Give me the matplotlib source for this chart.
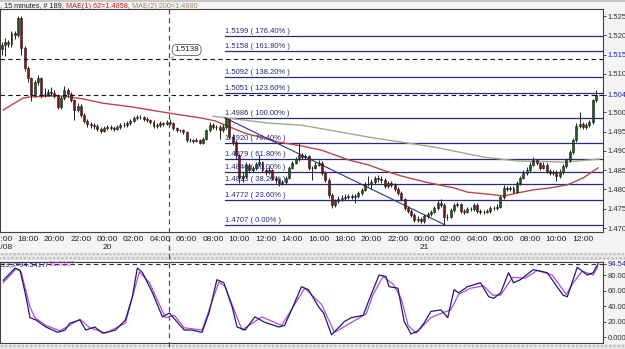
import numpy as np
import matplotlib
matplotlib.use("Agg")
import matplotlib.pyplot as plt
from matplotlib.lines import Line2D
from matplotlib.patches import Rectangle
from matplotlib.transforms import blended_transform_factory

plt.rcParams["font.family"] = ["Liberation Sans", "DejaVu Sans"]

# ---- price data: 15-minute bars, 16:00 19/08 -> 13:00 21/08 ----
close = [
    1.5175, 1.5183, 1.5177, 1.5206, 1.5201, 1.5245, 1.5167, 1.5115, 1.5089, 1.5045,
    1.5079, 1.5089, 1.5045, 1.5048, 1.5053, 1.5050, 1.5043, 1.5014, 1.5037, 1.5058,
    1.5048, 1.5032, 1.5006, 1.5017, 1.4993, 1.4978, 1.4970, 1.4967, 1.4965, 1.4957,
    1.4952, 1.4960, 1.4962, 1.4960, 1.4957, 1.4962, 1.4967, 1.4967, 1.4972, 1.4978,
    1.4985, 1.4988, 1.4988, 1.4983, 1.4980, 1.4975, 1.4965, 1.4967, 1.4972, 1.4970,
    1.4975, 1.4972, 1.4960, 1.4954, 1.4954, 1.4949, 1.4928, 1.4928, 1.4926, 1.4928,
    1.4921, 1.4931, 1.4954, 1.4967, 1.4962, 1.4962, 1.4954, 1.4962, 1.4983, 1.4936,
    1.4923, 1.4889, 1.4830, 1.4835, 1.4864, 1.4850, 1.4856, 1.4866, 1.4871, 1.4850,
    1.4845, 1.4850, 1.4830, 1.4825, 1.4817, 1.4819, 1.4830, 1.4856, 1.4869, 1.4879,
    1.4889, 1.4884, 1.4887, 1.4856, 1.4856, 1.4864, 1.4869, 1.4843, 1.4825, 1.4786,
    1.4760, 1.4770, 1.4775, 1.4778, 1.4781, 1.4783, 1.4781, 1.4783, 1.4791, 1.4799,
    1.4814, 1.4814, 1.4819, 1.4830, 1.4827, 1.4825, 1.4809, 1.4817, 1.4812, 1.4801,
    1.4791, 1.4775, 1.4752, 1.4744, 1.4734, 1.4721, 1.4723, 1.4718, 1.4731, 1.4736,
    1.4742, 1.4752, 1.4765, 1.4760, 1.4729, 1.4729, 1.4747, 1.4760, 1.4762, 1.4744,
    1.4742, 1.4749, 1.4749, 1.4760, 1.4744, 1.4742, 1.4742, 1.4744, 1.4752, 1.4752,
    1.4755, 1.4781, 1.4804, 1.4801, 1.4804, 1.4794, 1.4817, 1.4830, 1.4843, 1.4850,
    1.4864, 1.4876, 1.4869, 1.4856, 1.4864, 1.4848, 1.4843, 1.4845, 1.4835, 1.4845,
    1.4861, 1.4876, 1.4897, 1.4928, 1.4965, 1.4970, 1.4962, 1.4967, 1.4975, 1.5032,
    1.5046,
]
high = [
    1.5182, 1.5192, 1.5188, 1.5212, 1.5212, 1.5250, 1.5250, 1.5172, 1.5120, 1.5093,
    1.5085, 1.5098, 1.5093, 1.5062, 1.5060, 1.5066, 1.5057, 1.5048, 1.5042, 1.5068,
    1.5062, 1.5052, 1.5036, 1.5024, 1.5022, 1.4998, 1.4984, 1.4976, 1.4972, 1.4969,
    1.4962, 1.4965, 1.4968, 1.4967, 1.4964, 1.4967, 1.4972, 1.4974, 1.4978, 1.4982,
    1.4990, 1.4994, 1.4992, 1.4991, 1.4987, 1.4984, 1.4980, 1.4972, 1.4977, 1.4976,
    1.4980, 1.4982, 1.4976, 1.4963, 1.4958, 1.4957, 1.4952, 1.4933, 1.4932, 1.4933,
    1.4931, 1.4935, 1.4958, 1.4975, 1.4972, 1.4968, 1.4966, 1.4970, 1.4986, 1.4984,
    1.4945, 1.4928, 1.4892, 1.4845, 1.4870, 1.4868, 1.4862, 1.4872, 1.4890, 1.4875,
    1.4856, 1.4858, 1.4854, 1.4836, 1.4830, 1.4825, 1.4836, 1.4860, 1.4874, 1.4884,
    1.4921, 1.4894, 1.4892, 1.4890, 1.4862, 1.4870, 1.4876, 1.4873, 1.4848, 1.4830,
    1.4790, 1.4776, 1.4784, 1.4785, 1.4787, 1.4788, 1.4789, 1.4788, 1.4796, 1.4805,
    1.4820, 1.4836, 1.4826, 1.4836, 1.4838, 1.4834, 1.4830, 1.4822, 1.4823, 1.4816,
    1.4806, 1.4795, 1.4779, 1.4758, 1.4749, 1.4738, 1.4730, 1.4728, 1.4736, 1.4742,
    1.4748, 1.4758, 1.4772, 1.4775, 1.4764, 1.4736, 1.4752, 1.4766, 1.4768, 1.4766,
    1.4750, 1.4755, 1.4755, 1.4766, 1.4765, 1.4750, 1.4748, 1.4750, 1.4757, 1.4758,
    1.4762, 1.4786, 1.4812, 1.4810, 1.4810, 1.4808, 1.4822, 1.4836, 1.4850, 1.4858,
    1.4870, 1.4885, 1.4880, 1.4872, 1.4870, 1.4868, 1.4852, 1.4850, 1.4850, 1.4852,
    1.4866, 1.4882, 1.4902, 1.4934, 1.4972, 1.5001, 1.4975, 1.4972, 1.4980, 1.5036,
    1.5058,
]
low = [
    1.5150, 1.5145, 1.5170, 1.5170, 1.5190, 1.5196, 1.5150, 1.5108, 1.5080, 1.5030,
    1.5040, 1.5072, 1.5038, 1.5040, 1.5042, 1.5045, 1.5038, 1.5010, 1.5010, 1.5032,
    1.5040, 1.5026, 1.4980, 1.5000, 1.4988, 1.4972, 1.4962, 1.4960, 1.4958, 1.4952,
    1.4946, 1.4948, 1.4955, 1.4954, 1.4952, 1.4954, 1.4958, 1.4962, 1.4963, 1.4968,
    1.4975, 1.4980, 1.4982, 1.4978, 1.4975, 1.4970, 1.4960, 1.4960, 1.4963, 1.4965,
    1.4966, 1.4968, 1.4955, 1.4950, 1.4949, 1.4944, 1.4922, 1.4923, 1.4921, 1.4922,
    1.4917, 1.4917, 1.4928, 1.4950, 1.4956, 1.4955, 1.4930, 1.4950, 1.4958, 1.4930,
    1.4915, 1.4880, 1.4817, 1.4820, 1.4830, 1.4842, 1.4845, 1.4850, 1.4860, 1.4845,
    1.4838, 1.4840, 1.4825, 1.4818, 1.4809, 1.4812, 1.4815, 1.4826, 1.4852, 1.4865,
    1.4875, 1.4878, 1.4880, 1.4850, 1.4825, 1.4852, 1.4860, 1.4838, 1.4820, 1.4778,
    1.4752, 1.4755, 1.4765, 1.4770, 1.4772, 1.4775, 1.4775, 1.4765, 1.4778, 1.4786,
    1.4795, 1.4808, 1.4800, 1.4815, 1.4820, 1.4818, 1.4804, 1.4805, 1.4806, 1.4796,
    1.4786, 1.4770, 1.4746, 1.4738, 1.4728, 1.4715, 1.4716, 1.4712, 1.4714, 1.4726,
    1.4730, 1.4738, 1.4748, 1.4755, 1.4707, 1.4722, 1.4725, 1.4742, 1.4755, 1.4738,
    1.4736, 1.4738, 1.4744, 1.4745, 1.4740, 1.4737, 1.4736, 1.4738, 1.4740, 1.4747,
    1.4748, 1.4752, 1.4776, 1.4795, 1.4796, 1.4790, 1.4790, 1.4812, 1.4826, 1.4838,
    1.4846, 1.4860, 1.4864, 1.4850, 1.4852, 1.4843, 1.4838, 1.4838, 1.4822, 1.4830,
    1.4840, 1.4856, 1.4872, 1.4892, 1.4924, 1.4960, 1.4956, 1.4958, 1.4962, 1.4970,
    1.5028,
]
first_open = 1.5165

# moving averages (bar index, price)
ma62_bar = [0.5, 3.5, 6.5, 8.6, 17, 20.7, 24.6, 30.6, 39.6, 50.8, 60.7, 64.6, 73.7, 83.9,
            90.8, 96.9, 105.3, 111, 115.5, 121, 128.5, 137, 141.1, 147.2, 152, 156.2,
            161, 166.1, 171.3, 176.1, 180.6]
ma62_val = [1.5006, 1.5022, 1.5037, 1.5040, 1.5043, 1.5040, 1.5035, 1.5024, 1.5014,
            1.4998, 1.4985, 1.4978, 1.4946, 1.4923, 1.4913, 1.4902, 1.4876, 1.4864,
            1.4850, 1.4835, 1.4819, 1.4804, 1.4793, 1.4788, 1.4783, 1.4791, 1.4799,
            1.4804, 1.4812, 1.4830, 1.4856]
ma200_bar = [64, 68.9, 80.9, 90.8, 111, 131, 146, 156, 171, 181]
ma200_val = [1.4990, 1.4985, 1.4972, 1.4967, 1.4936, 1.4910, 1.4884, 1.4874, 1.4871,
             1.4879]

# fibonacci retracement (drawn from bar 68 high to bar 134 low)
fib_prices = [1.5199, 1.5158, 1.5092, 1.5051, 1.4986, 1.4920, 1.4879, 1.4846, 1.4813,
              1.4772, 1.4707]
fib_pcts = ["176.40%", "161.80%", "138.20%", "123.60%", "100.00%", "76.40%", "61.80%",
            "50.00%", "38.20%", "23.60%", "0.00%"]
fib_start_bar = 67.6
fib_end_bar = 134.5

# price axis
ytick_vals = [1.4700, 1.4750, 1.4800, 1.4850, 1.4900, 1.4950, 1.5000, 1.5046, 1.5100,
              1.5150, 1.5200, 1.5250]
ytick_labels = ["1.4700", "1.4750", "1.4800", "1.4850", "1.4900", "1.4950", "1.5000",
                "1.5046", "1.5100", "1.5150", "1.5200", "1.5250"]
last_price = 1.5046
cross_bar = 50.7
cross_price = 1.5138

# time axis
xtick_bars = [0, 8, 16, 24, 32, 40, 48, 56, 64, 72, 80, 88, 96, 104, 112, 120, 128,
              136, 144, 152, 160, 168, 176]
xtick_labels = ["16:00\n19/08", "18:00", "20:00", "22:00", "00:00\n20", "02:00", "04:00",
                "06:00", "08:00", "10:00", "12:00", "14:00", "16:00", "18:00", "20:00",
                "22:00", "00:00\n21", "02:00", "04:00", "06:00", "08:00", "10:00", "12:00"]

# stochastic (%K navy, %D purple) vertices
stk_bar = [0.5, 4.1, 5.6, 7.4, 8.6, 10.4, 13.4, 17, 19.2, 20.7, 23.7, 25.5, 28.2, 30.6,
           34.5, 37.5, 39.6, 41.1, 42.7, 45.7, 48.7, 50.8, 52.6, 55.3, 57.7, 60.7, 62.8,
           65.2, 67.3, 69.8, 71.3, 73.7, 76.7, 79.7, 83.9, 85.7, 87.8, 90.8, 92.9, 96,
           97.5, 99.9, 102, 103.8, 105.9, 109.5, 111, 114.3, 116.4, 117.3, 120, 121.9,
           124, 126.1, 127.9, 130, 133, 135.1, 137, 138.4, 141.1, 145, 147.5, 149, 151.1,
           153.5, 155, 157.1, 161, 165.2, 170, 171.3, 174.3, 177.3, 179.1, 180.6]
stk_val = [73, 89, 86, 52, 25, 22, 13, 6, 9, 18, 22, 9, 13, 5, 9, 22, 52, 89, 83, 57, 26,
           31, 22, 9, 9, 6, 31, 74, 70, 39, 13, 9, 26, 19, 13, 15, 35, 65, 61, 39,
           31, 3, 12, 20, 25, 28, 45, 80, 78, 65, 63, 20,
           4, 8, 18, 33, 35, 25, 61, 57, 65, 70, 52, 50, 57,
           83, 70, 74, 87, 83, 54, 52, 90, 80, 83, 94.5]
std_bar = [0.5, 4.4, 5.9, 8.6, 10.1, 13.4, 17.7, 23.7, 26.7, 31.5, 37.5, 41.7, 44.8, 49.6,
           52.3, 55.3, 60.7, 65.8, 67.7, 72.8, 78.8, 84.8, 91.8, 96.9, 100.8, 104.4,
           110.4, 112.5, 115.5, 118.6, 121, 123.1, 125.5, 130, 133.9, 136, 138.4, 142,
           146, 148.7, 151.1, 154.7, 158.6, 162.2, 166.7, 171, 173.1, 175.8, 179.1, 180.6]
std_val = [70, 88, 84, 39, 25, 15, 8, 23, 12, 5, 18, 84, 70, 25, 28, 12, 9, 71, 65, 9, 26,
           15, 63, 42, 6, 15, 30, 55, 78, 68, 50, 15, 5, 25, 32, 35, 55, 63, 66, 54, 54,
           77, 76, 86, 80, 55, 70, 85, 80, 91]
stoch_last = 94.54
stoch_yticks = [0, 20, 40, 60, 80, 94.54]
stoch_ylabels = ["0.0000", "20.000", "40.000", "60.000", "80.000", "94.54"]

NAVY = "#1c1c6e"
FIB = "#2a2a78"
RED_MA = "#b8484a"
GREY_MA = "#aaa290"
PURPLE = "#b44ad0"
GREEN = "#1f5a24"
DARKRED = "#7a1616"

W, H = 625, 349
fig = plt.figure(figsize=(W / 100, H / 100), dpi=100, facecolor="#f4f4f4")


def fbox(x0, y0, x1, y1):
    return [x0 / W, 1 - y1 / H, (x1 - x0) / W, (y1 - y0) / H]


def chain_text(x, y, parts, size, transform):
    # write coloured pieces one after the other on a line
    prev = None
    for txt, col in parts:
        if prev is None:
            prev = fig.text(x, y, txt, fontsize=size, color=col, va="center",
                            transform=transform)
        else:
            prev = fig.add_artist(matplotlib.text.Annotation(
                txt, xy=(1, 0.5), xycoords=prev, va="center", ha="left",
                fontsize=size, color=col))


ax = fig.add_axes(fbox(0, 9, 603, 232))
axs = fig.add_axes(fbox(0, 262, 603, 343))
for a in (ax, axs):
    a.set_facecolor("white")
    for s in a.spines.values():
        s.set_color("#404040")
        s.set_linewidth(0.8)

n = len(close)
bars = np.arange(n)
opens = np.array([first_open] + close[:-1])
closes = np.array(close)
up = closes >= opens

ax.vlines(bars, low, high, color="#202020", lw=0.7, zorder=3)
body_lo = np.minimum(opens, closes)
body_h = np.maximum(np.abs(closes - opens), 0.00008)
ax.bar(bars[up], body_h[up], bottom=body_lo[up], width=0.6, color=GREEN,
       edgecolor="#102010", lw=0.4, zorder=4)
ax.bar(bars[~up], body_h[~up], bottom=body_lo[~up], width=0.6, color=DARKRED,
       edgecolor="#301010", lw=0.4, zorder=4)

ax.plot(ma200_bar, ma200_val, color=GREY_MA, lw=1.0, zorder=2)
ax.plot(ma62_bar, ma62_val, color=RED_MA, lw=1.0, zorder=2)

xmin, xmax = -0.48, 182.1
for p, pct in zip(fib_prices, fib_pcts):
    ax.plot([fib_start_bar, xmax], [p, p], color=FIB, lw=0.9, zorder=1)
    ax.text(fib_start_bar, p + 0.0003, f"{p:.4f} ( {pct} )", fontsize=5.5, color=FIB,
            ha="left", va="bottom", zorder=6)
ax.plot([fib_start_bar, fib_end_bar], [fib_prices[4], fib_prices[-1]], color="#303090",
        lw=0.8, zorder=2)

ax.axhline(last_price, color="#101030", lw=0.8, ls=(0, (4, 3)), zorder=5)
ax.axhline(cross_price, color="#101030", lw=0.8, ls=(0, (4, 3)), zorder=5)

ax.set_xlim(xmin, xmax)
ax.set_ylim(1.46897, 1.52682)
ax.yaxis.tick_right()
ax.set_yticks(ytick_vals)
ax.set_yticklabels(ytick_labels)
ax.tick_params(axis="y", length=2.5, width=0.6, pad=0.8, labelsize=5.5, colors="#303030")
for t, v in zip(ax.get_yticklabels(), ytick_vals):
    if v in (last_price, 1.5150):
        t.set_color("#2020a0")
ax.set_xticks(xtick_bars)
ax.set_xticklabels(xtick_labels)
ax.tick_params(axis="x", length=0, pad=3, labelsize=6, colors="#202020")
for t in ax.get_xticklabels():
    t.set_linespacing(1.15)
    t.set_va("top")

# crosshair callout
ax.annotate(f"{cross_price:.4f}", xy=(cross_bar, cross_price),
            xytext=(cross_bar + 1.6, cross_price + 0.0024),
            fontsize=5.8, color="#202020", ha="left", va="center",
            bbox=dict(boxstyle="round,pad=0.25,rounding_size=0.6", fc="white", ec="#606060", lw=0.6),
            arrowprops=dict(arrowstyle="-", color="#606060", lw=0.6), zorder=7)

# stochastic
axs.plot(std_bar, std_val, color=PURPLE, lw=0.9)
axs.plot(stk_bar, stk_val, color=NAVY, lw=0.9)
axs.axhline(stoch_last, color="#303030", lw=0.8, ls=(0, (4, 3)))
axs.set_xlim(xmin, xmax)
axs.set_ylim(-7.7, 96.8)
axs.set_xticks([])
axs.yaxis.tick_right()
axs.set_yticks(stoch_yticks)
axs.set_yticklabels(stoch_ylabels)
axs.tick_params(axis="y", length=2.5, width=0.6, pad=0.8, labelsize=5.5, colors="#303030")
axs.get_yticklabels()[-1].set_color("#2020a0")
chain_text(0.0, 1 - 265 / H, [("3;3;3=94.5417/", NAVY), ("91.0107", PURPLE)], 5.2,
           fig.transFigure)

# vertical crosshair through both panels
tr = blended_transform_factory(ax.transData, fig.transFigure)
fig.add_artist(Line2D([cross_bar, cross_bar], [1 - 9 / H, 0], transform=tr,
                      color="#505050", lw=0.9, ls=(0, (4, 3)), zorder=10))

# separators and header
for y0, y1 in ((253, 260), (344, 349)):
    fig.add_artist(Rectangle((0, 1 - y1 / H), 1, (y1 - y0) / H, transform=fig.transFigure,
                             facecolor="#e6e6e6", edgecolor="#b8b8b8", hatch="....", lw=0))
fig.add_artist(Rectangle((0, 1 - 2 / H), 1, 2 / H, transform=fig.transFigure,
                         facecolor="#c8c8c8", lw=0))
chain_text(0.0, 1 - 6 / H, [(", 15 minutes, # 189, ", "#202020"),
                            ("MAE(1) 62=1.4858, ", "#c02020"),
                            ("MAE(2) 200=1.4880", "#a08a60")], 5.2, fig.transFigure)

fig.savefig("out.png", dpi=100, facecolor=fig.get_facecolor())
